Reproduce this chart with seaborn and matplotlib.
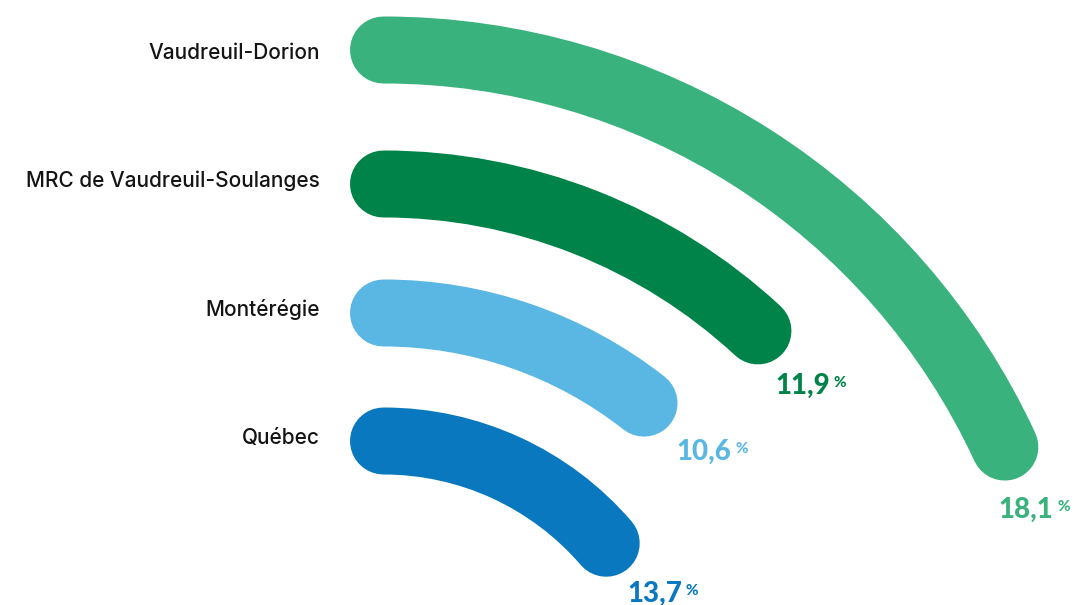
import numpy as np
import pandas as pd
import matplotlib.pyplot as plt
import seaborn as sns

# Data
regions = ['Vaudreuil-Dorion', 'MRC de Vaudreuil-Soulanges', 'Montérégie', 'Québec']
values = [18.1, 11.9, 10.6, 13.7]
value_labels = ['18,1', '11,9', '10,6', '13,7']
colors = ['#3AB27D', '#008348', '#5AB7E4', '#0A78BE']

# 25 % = a quarter turn
scale_max = 25.0

# layout, in pixels of the 1076x605 canvas
W, H = 1076, 605
cx, cy = 383.5, 734.7          # centre of the arcs (below the canvas)
row_y = [50, 184, 313, 441]    # centre line of each arc at its start
R = 730                        # radius covered by the polar axes

sns.set_theme(style='white')
plt.rcParams['font.family'] = ['Inter', 'DejaVu Sans']

fig = plt.figure(figsize=(W / 100, H / 100), dpi=100)
ax = fig.add_axes([(cx - R) / W, (H - cy - R) / H, 2 * R / W, 2 * R / H], projection='polar')
ax.set_theta_zero_location('N')
ax.set_theta_direction(-1)

df = pd.DataFrame({
    'region': np.repeat(regions, 2),
    'theta': np.ravel([[0, np.deg2rad(v / scale_max * 90)] for v in values]),
    'r': np.repeat([cy - y for y in row_y], 2),
})

sns.lineplot(data=df, x='theta', y='r', hue='region', hue_order=regions,
             palette=dict(zip(regions, colors)), sort=False, estimator=None,
             legend=False, linewidth=67 * 0.72, solid_capstyle='round', ax=ax)

# draw the segments as true arcs, like polar grid lines
for line in ax.lines:
    line.get_path()._interpolation_steps = 180

ax.set_rlim(0, R)
ax.set_axis_off()

# category labels on the left
base_y = [59, 187, 316, 444]
for name, y in zip(regions, base_y):
    fig.text(320 / W, 1 - y / H, name, ha='right', va='baseline',
             fontsize=15, fontweight='medium', color='#141414')

# value labels under the end of each arc: number + small %
anchors = [(1055, 518), (832, 394), (733, 460), (684, 602)]
for lab, col, (ax_x, ax_y) in zip(value_labels, colors, anchors):
    fig.text((ax_x - 2) / W, 1 - ax_y / H, lab, ha='right', va='baseline',
             fontsize=20, fontweight='black', family=['Lato', 'DejaVu Sans'], color=col)
    fig.text((ax_x + 2) / W, 1 - (ax_y - 7) / H, '%', ha='left', va='baseline',
             fontsize=11, fontweight='black', family=['Lato', 'DejaVu Sans'], color=col)

fig.savefig('out.png', dpi=100)
